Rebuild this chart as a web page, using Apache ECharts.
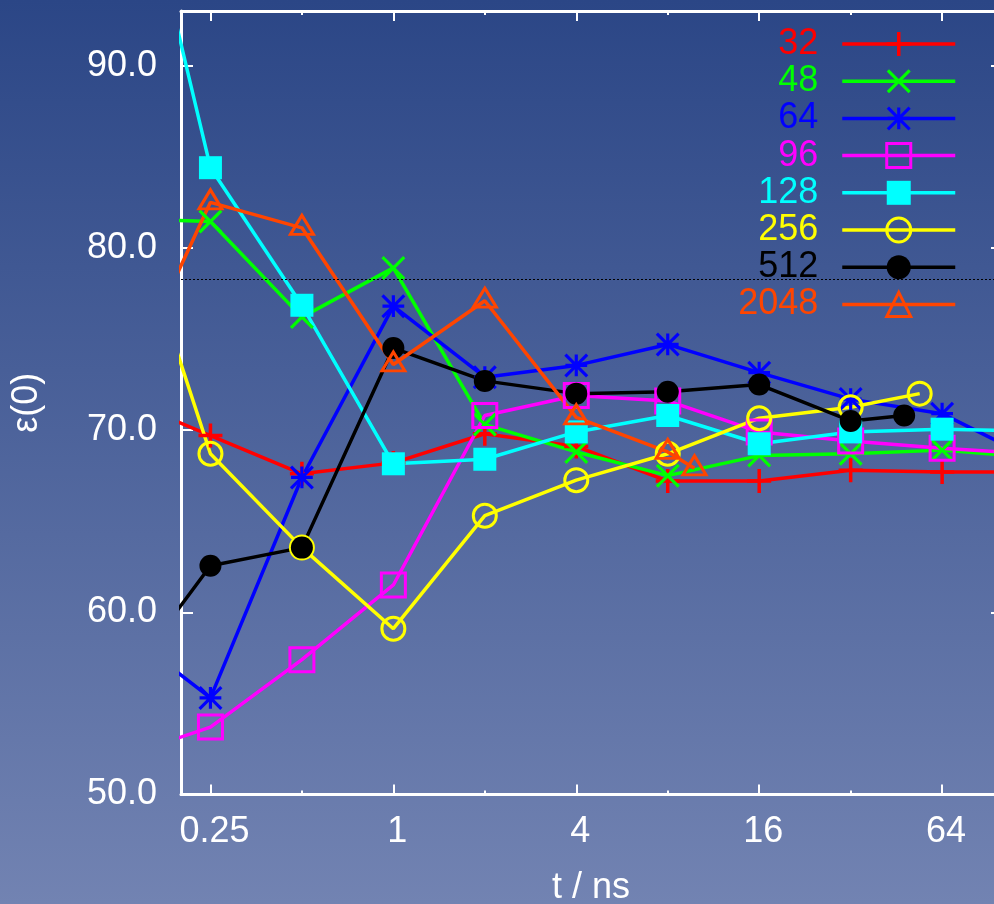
<!DOCTYPE html>
<html>
<head>
<meta charset="utf-8">
<script src="https://cdn.jsdelivr.net/npm/echarts@6/dist/echarts.min.js"></script>
<style>
  html, body { margin: 0; padding: 0; background: #2c4787; }
  #chart { width: 994px; height: 904px; }
</style>
</head>
<body>
<div id="chart"></div>
<script>
// Static dielectric constant ε(0) against simulated time, one curve per system size

const sizes = ['32', '48', '64', '96', '128', '256', '512', '2048'];

// simulated time (ns) for each curve
const tFull = [0.125, 0.25, 0.5, 1, 2, 4, 8, 16, 32, 64, 128];
const t256  = [0.125, 0.25, 0.5, 1, 2, 4, 8, 16, 32, 54];
const t512  = [0.125, 0.25, 0.5, 1, 2, 4, 8, 16, 32, 48];
const t2048 = [0.125, 0.25, 0.5, 1, 2, 4, 8, 9.8];

// ε(0) values
const eps32   = [71.8, 69.7, 67.6, 68.2, 69.8, 69.1, 67.2, 67.2, 67.8, 67.7, 67.7];
const eps48   = [81.6, 81.45, 76.2, 78.9, 70.3, 68.8, 67.5, 68.6, 68.7, 68.9, 68.5];
const eps64   = [59.2, 55.3, 67.4, 76.8, 72.9, 73.55, 74.7, 73.15, 71.7, 70.9, 68.4];
const eps96   = [52.0, 53.7, 57.4, 61.5, 70.8, 71.9, 71.6, 69.9, 69.4, 69.0, 68.7];
const eps128  = [105.5, 84.4, 76.85, 68.15, 68.4, 69.9, 70.8, 69.25, 69.9, 70.05, 69.95];
const eps256  = [84.0, 68.7, 63.55, 59.1, 65.3, 67.25, 68.7, 70.65, 71.25, 72.0];
const eps512  = [55.8, 62.55, 63.55, 74.5, 72.7, 72.0, 72.1, 72.5, 70.5, 70.8];
const eps2048 = [71.7, 82.5, 81.1, 73.6, 77.1, 70.7, 68.8, 67.9];

// reference level (dotted line)
const epsRef = 78.3;

// axis ticks
const xMajorTicks = [0.25, 1, 4, 16, 64];
const xMinorTicks = [0.5, 2, 8, 32];
const yTicks = [50, 60, 70, 80, 90];

const FONT = '"Liberation Sans", Arial, Helvetica, sans-serif';
const LINE_W = 3.5;

// point shapes (24-unit box)
const PLUS_D  = 'M10.25,0H13.75V10.25H24V13.75H13.75V24H10.25V13.75H0V10.25H10.25Z';
const CROSS_D = 'M-1.24,1.24L1.24,-1.24L25.24,22.76L22.76,25.24Z' +
                'M22.76,-1.24L25.24,1.24L1.24,25.24L-1.24,22.76Z';
const PLUS  = 'path://' + PLUS_D;
const CROSS = 'path://' + CROSS_D;
const STAR  = 'path://' + PLUS_D + CROSS_D;

const curves = [
  { name: sizes[0], t: tFull, y: eps32,   color: '#ff0000', symbol: PLUS,   size: 24, open: false },
  { name: sizes[1], t: tFull, y: eps48,   color: '#00ff00', symbol: CROSS,  size: 24, open: false },
  { name: sizes[2], t: tFull, y: eps64,   color: '#0000ff', symbol: STAR,   size: 24, open: false },
  { name: sizes[3], t: tFull, y: eps96,   color: '#ff00ff', symbol: 'rect', size: 24, open: true },
  { name: sizes[4], t: tFull, y: eps128,  color: '#00ffff', symbol: 'rect', size: 23, open: false },
  { name: sizes[5], t: t256,  y: eps256,  color: '#ffff00', symbol: 'circle', size: 23, open: true },
  { name: sizes[6], t: t512,  y: eps512,  color: '#000000', symbol: 'circle', size: 22, open: false },
  { name: sizes[7], t: t2048, y: eps2048, color: '#ff4500', symbol: 'triangle', size: [23, 19], open: true, offset: [0, -3] }
];

function itemStyleFor(c) {
  return c.open
    ? { color: 'rgba(0,0,0,0)', borderColor: c.color, borderWidth: 3 }
    : { color: c.color, borderColor: c.color, borderWidth: 0 };
}

const series = curves.map((c, i) => {
  const s = {
    type: 'line',
    name: c.name,
    data: c.t.map((t, k) => [t, c.y[k]]),
    xAxisIndex: 0,
    yAxisIndex: 0,
    symbol: c.symbol,
    symbolSize: c.size,
    symbolOffset: c.offset || [0, 0],
    showAllSymbol: true,
    clip: true,
    lineStyle: { color: c.color, width: LINE_W },
    itemStyle: itemStyleFor(c),
    emphasis: { disabled: true },
    z: 2
  };
  if (i === 0) {
    s.markLine = {
      silent: true,
      symbol: ['none', 'none'],
      label: { show: false },
      lineStyle: { color: '#000', type: [2, 2], width: 1 },
      data: [{ yAxis: epsRef }]
    };
  }
  return s;
});

const axisLine = { show: true, onZero: false, lineStyle: { color: '#fff', width: 3 } };
const tickLine = { color: '#fff', width: 2 };

function xAxisDef(position, ticks, len, main) {
  const a = {
    type: 'log', logBase: 2, min: 0.2, max: 100,
    position: position, gridIndex: 0,
    axisLine: main ? axisLine : { show: false },
    axisTick: { show: true, inside: true, length: len, lineStyle: tickLine, customValues: ticks },
    axisLabel: { show: false },
    splitLine: { show: false },
    minorTick: { show: false },
    axisPointer: { show: false }
  };
  if (main && position === 'bottom') {
    a.axisLabel = {
      show: true, customValues: ticks, color: '#fff', fontSize: 36, fontFamily: FONT, margin: 20,
      padding: [0, 0, 0, 8],
      formatter: v => String(+Number(v).toPrecision(6))
    };
    a.name = 't / ns';
    a.nameLocation = 'middle';
    a.nameGap = 76;
    a.nameTextStyle = { color: '#fff', fontSize: 36, fontFamily: FONT };
  }
  return a;
}

const option = {
  animation: false,
  backgroundColor: new echarts.graphic.LinearGradient(0, 0, 0, 1, [
    { offset: 0, color: '#2b4686' },
    { offset: 1, color: '#7283b2' }
  ]),
  textStyle: { fontFamily: FONT },
  grid: {
    left: 181, top: 11, width: 820, height: 783.5,
    containLabel: false,
    outerBoundsMode: 'none'
  },
  xAxis: [
    xAxisDef('bottom', xMajorTicks, 10, true),
    xAxisDef('bottom', xMinorTicks, 4, false),
    xAxisDef('top', xMajorTicks, 10, true),
    xAxisDef('top', xMinorTicks, 4, false)
  ],
  yAxis: [
    {
      type: 'value', min: 50, max: 93, position: 'left',
      axisLine: axisLine,
      axisTick: { show: true, inside: true, length: 12, lineStyle: tickLine, customValues: yTicks },
      axisLabel: {
        show: true, customValues: yTicks, color: '#fff', fontSize: 36, fontFamily: FONT, margin: 24,
        formatter: v => Number(v).toFixed(1)
      },
      splitLine: { show: false },
      name: 'ε(0)', nameLocation: 'middle', nameRotate: 90, nameGap: 136,
      nameTextStyle: { color: '#fff', fontSize: 36, fontFamily: FONT }
    },
    {
      type: 'value', min: 50, max: 93, position: 'right',
      axisLine: axisLine,
      axisTick: { show: true, inside: true, length: 10, lineStyle: tickLine, customValues: yTicks },
      axisLabel: { show: false },
      splitLine: { show: false }
    }
  ],
  legend: {
    orient: 'vertical',
    right: 37,
    top: 26,
    padding: 0,
    itemGap: 1.2,
    itemWidth: 113,
    itemHeight: 30,
    align: 'right',
    selectedMode: false,
    textStyle: { fontSize: 36, fontFamily: FONT, lineHeight: 30, padding: [0, 19, 0, 0] },
    data: curves.map(c => ({
      name: c.name,
      textStyle: { color: c.color },
      itemStyle: itemStyleFor(c),
      lineStyle: { color: c.color, width: LINE_W }
    }))
  },
  series: series
};

const chart = echarts.init(document.getElementById('chart'), null, { renderer: 'canvas' });
chart.setOption(option);
</script>
</body>
</html>
